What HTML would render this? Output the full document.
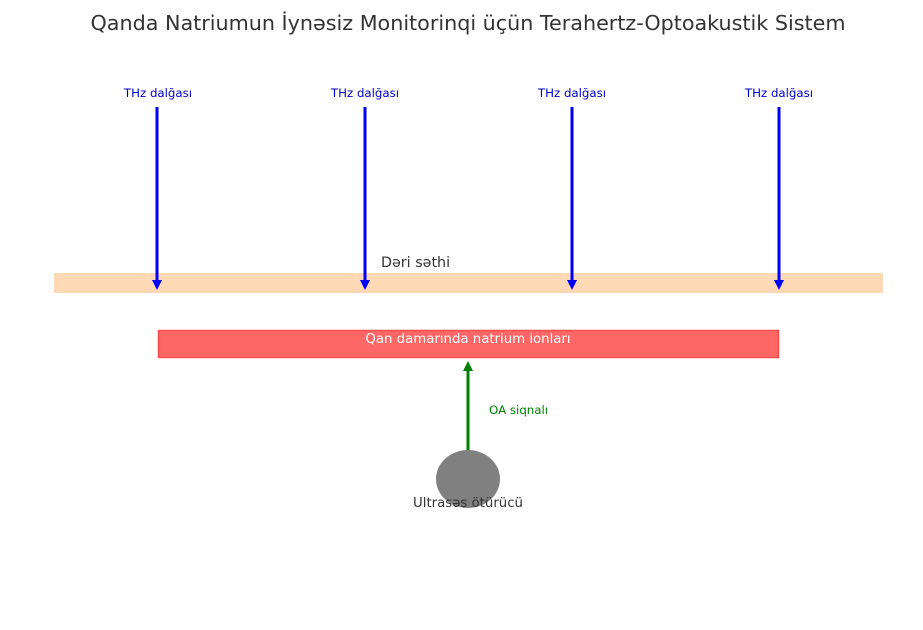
<!DOCTYPE html>
<html><head><meta charset="utf-8"><style>
body{margin:0;background:#fff}
svg{display:block}
text{font-family:"DejaVu Sans","Liberation Sans",sans-serif}
</style></head><body>
<svg width="923" height="630" viewBox="0 0 923 630" xmlns="http://www.w3.org/2000/svg">
<rect width="923" height="630" fill="#fff"/>
<text x="468" y="30" font-size="20.7" fill="#333" text-anchor="middle">Qanda Natriumun İynəsiz Monitorinqi üçün Terahertz-Optoakustik Sistem</text>
<rect x="54" y="273" width="829" height="20" fill="#fdd9b5"/>
<text x="381" y="267" font-size="14.3" fill="#333">Dəri səthi</text>
<g fill="#0000ff" stroke="#0000ff">
<g id="a"><line x1="157" y1="107" x2="157" y2="282" stroke-width="3"/><polygon points="152,280 162,280 157,290" stroke="none"/></g>
<use href="#a" x="208"/><use href="#a" x="415"/><use href="#a" x="622"/>
</g>
<g font-size="11.8" fill="#0000cc" text-anchor="middle">
<text x="158" y="97">THz dalğası</text><text x="365" y="97">THz dalğası</text>
<text x="572" y="97">THz dalğası</text><text x="779" y="97">THz dalğası</text>
</g>
<rect x="158.5" y="330.5" width="620" height="27" fill="#ff6666" stroke="#ff4d4d" stroke-width="1.5"/>
<text x="468" y="343" font-size="13.3" fill="#fff" text-anchor="middle">Qan damarında natrium ionları</text>
<line x1="468" y1="450" x2="468" y2="369" stroke="#008000" stroke-width="3"/>
<polygon points="463,371 473,371 468,361" fill="#008000"/>
<text x="489" y="414" font-size="11.8" fill="#008000">OA siqnalı</text>
<ellipse cx="468" cy="479" rx="32" ry="29" fill="#808080"/>
<text x="468" y="507" font-size="13.3" fill="#333" text-anchor="middle">Ultrasəs ötürücü</text>
</svg>
</body></html>
